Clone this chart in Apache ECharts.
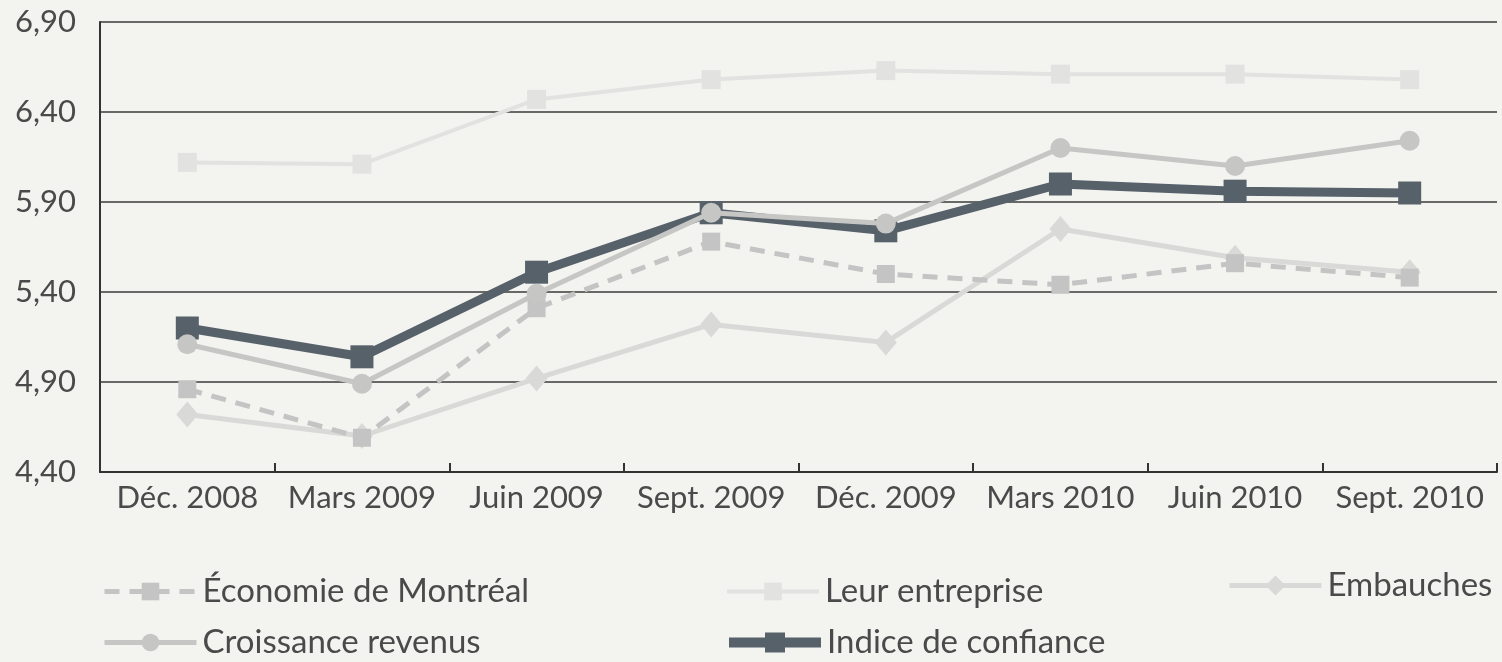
<!DOCTYPE html>
<html>
<head>
<meta charset="utf-8">
<script src="https://cdn.jsdelivr.net/npm/echarts@6/dist/echarts.min.js"></script>
<style>
html,body{margin:0;padding:0;background:#f3f3f0;}
#c{width:1502px;height:662px;}
</style>
</head>
<body>
<div id="c"></div>
<script>
const categories = ['Déc. 2008','Mars 2009','Juin 2009','Sept. 2009','Déc. 2009','Mars 2010','Juin 2010','Sept. 2010'];
const economieMontreal = [4.86, 4.59, 5.31, 5.68, 5.50, 5.44, 5.56, 5.48];
const leurEntreprise   = [6.12, 6.11, 6.47, 6.58, 6.63, 6.61, 6.61, 6.58];
const embauches        = [4.72, 4.60, 4.92, 5.22, 5.12, 5.75, 5.59, 5.51];
const croissanceRevenus= [5.11, 4.89, 5.39, 5.84, 5.78, 6.20, 6.10, 6.24];
const indiceConfiance  = [5.20, 5.04, 5.51, 5.84, 5.74, 6.00, 5.96, 5.95];
const yTicks = [4.40, 4.90, 5.40, 5.90, 6.40, 6.90];

const FONT = 'Lato';
const TXT = '#4a4a4a';

const chart = echarts.init(document.getElementById('c'));

function leg(name, left, top, lw, ih) {
  return {
    data: [name], left: left, top: top, orient: 'horizontal',
    itemWidth: 92, itemHeight: ih, itemGap: 0,
    lineStyle: { width: lw },
    textStyle: { fontFamily: FONT, fontSize: 33, color: TXT, padding: [0,0,0,1] },
    selectedMode: false
  };
}

chart.setOption({
  backgroundColor: '#f3f3f0',
  animation: false,
  grid: { left: 100, right: 5, top: 22, bottom: 190, containLabel: false },
  legend: [
    leg('Économie de Montréal', 97, 570, 5, 22),
    leg('Leur entreprise', 720, 570, 4, 22),
    leg('Embauches', 1222, 564, 5, 25),
    leg('Croissance revenus', 97, 621, 5, 22),
    leg('Indice de confiance', 719, 621, 10, 25)
  ],
  xAxis: {
    type: 'category', data: categories, boundaryGap: true,
    axisLine: { lineStyle: { color: '#333', width: 2 } },
    axisTick: { show: true, inside: true, length: 9, interval: 0, lineStyle: { color: '#333', width: 2 } },
    axisLabel: { fontFamily: FONT, fontSize: 31, color: TXT, margin: 10, interval: 0, hideOverlap: false },
    splitLine: { show: false }
  },
  yAxis: {
    type: 'value', min: yTicks[0], max: yTicks[yTicks.length-1], interval: 0.5,
    axisLine: { show: true, lineStyle: { color: '#333', width: 2 } },
    axisTick: { show: false },
    axisLabel: { fontFamily: FONT, fontSize: 31, color: TXT, margin: 24,
      formatter: v => v.toFixed(2).replace('.', ',') },
    splitLine: { show: true, lineStyle: { color: '#3a3a3a', width: 1.5 } }
  },
  series: [
    { name: 'Économie de Montréal', type: 'line', data: economieMontreal, z: 3,
      symbol: 'rect', symbolSize: 18, itemStyle: { color: '#c4c4c4' },
      lineStyle: { color: '#c4c4c4', width: 5, type: [15, 10] } },
    { name: 'Leur entreprise', type: 'line', data: leurEntreprise, z: 2,
      symbol: 'rect', symbolSize: 19, itemStyle: { color: '#e2e2e0' },
      lineStyle: { color: '#e2e2e0', width: 4 } },
    { name: 'Embauches', type: 'line', data: embauches, z: 2,
      symbol: 'diamond', symbolSize: [22, 26], itemStyle: { color: '#d9d9d7' },
      lineStyle: { color: '#d9d9d7', width: 5 } },
    { name: 'Croissance revenus', type: 'line', data: croissanceRevenus, z: 5,
      symbol: 'circle', symbolSize: 20, itemStyle: { color: '#c6c6c4' },
      lineStyle: { color: '#c6c6c4', width: 5 } },
    { name: 'Indice de confiance', type: 'line', data: indiceConfiance, z: 4,
      symbol: 'rect', symbolSize: 23, itemStyle: { color: '#57616a' },
      lineStyle: { color: '#57616a', width: 9 } }
  ]
});
</script>
</body>
</html>
